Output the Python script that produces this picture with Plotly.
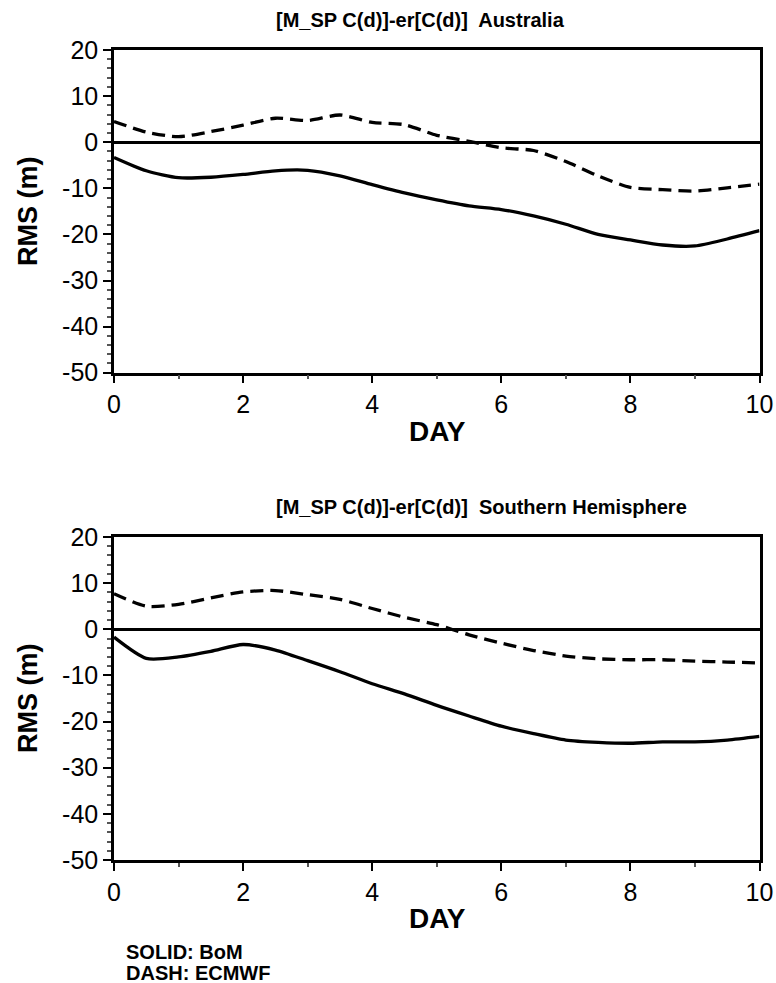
import plotly.graph_objects as go

days = [0, 0.5, 1, 1.5, 2, 2.5, 3, 3.5, 4, 4.5, 5, 5.5, 6, 6.5, 7, 7.5, 8, 8.5, 9, 9.5, 10]

aus_bom = [-3.3, -6.2, -7.7, -7.6, -7.0, -6.2, -6.1, -7.3, -9.2, -11.0, -12.5, -13.8,
           -14.6, -16.0, -17.8, -20.0, -21.2, -22.3, -22.5, -21.0, -19.2]
aus_ecmwf = [4.5, 2.2, 1.2, 2.3, 3.7, 5.2, 4.7, 5.9, 4.3, 3.8, 1.5, 0.2,
             -1.2, -1.8, -4.2, -7.3, -9.8, -10.3, -10.6, -9.9, -9.1]

sh_bom = [-1.7, -6.3, -6.0, -4.8, -3.3, -4.5, -6.8, -9.2, -11.8, -14.0, -16.5, -18.8,
          -21.0, -22.6, -24.0, -24.5, -24.7, -24.4, -24.4, -24.0, -23.2]
sh_ecmwf = [7.7, 5.0, 5.4, 6.8, 8.1, 8.4, 7.5, 6.5, 4.5, 2.6, 1.0, -1.2,
            -3.0, -4.6, -5.8, -6.4, -6.6, -6.6, -6.9, -7.1, -7.3]

titles = ["[M_SP C(d)]-er[C(d)]  Australia", "[M_SP C(d)]-er[C(d)]  Southern Hemisphere"]
x_ticks = [0, 2, 4, 6, 8, 10]
y_ticks = [20, 10, 0, -10, -20, -30, -40, -50]
y_ticklabels = ["20", "10", "0", "-10", "-20", "-30", "-40", "-50"]

W, H = 776, 983
FONT = "Liberation Sans, Arial, Helvetica, sans-serif"

fig = go.Figure()

panels = [
    (aus_bom, aus_ecmwf, "x", "y"),
    (sh_bom, sh_ecmwf, "x2", "y2"),
]
for bom, ecm, xa, ya in panels:
    fig.add_trace(go.Scatter(x=days, y=bom, mode="lines", xaxis=xa, yaxis=ya,
                             line=dict(color="black", width=3.3, shape="spline", smoothing=0.7),
                             showlegend=False, name="BoM"))
    fig.add_trace(go.Scatter(x=days, y=ecm, mode="lines", xaxis=xa, yaxis=ya,
                             line=dict(color="black", width=3.3, dash="13px,7px",
                                       shape="spline", smoothing=0.7),
                             showlegend=False, name="ECMWF"))

xdom = [114 / W, 759.5 / W]
ydom1 = [1 - 372.7 / H, 1 - 50 / H]
ydom2 = [1 - 860 / H, 1 - 537 / H]

def xaxis(anchor):
    return dict(domain=xdom, anchor=anchor, range=[0, 10], tickvals=x_ticks,
                ticks="outside", ticklen=8, tickwidth=1.5, tickcolor="black",
                minor=dict(dtick=1, tick0=0, ticks="outside", ticklen=4, tickcolor="#555"),
                showline=True, linecolor="black", linewidth=2.5, mirror=True,
                showgrid=False, zeroline=False, automargin=False,
                tickfont=dict(family=FONT, size=25, color="black"))

def yaxis(anchor, dom):
    return dict(domain=dom, anchor=anchor, range=[-50, 20], tickvals=y_ticks,
                ticktext=y_ticklabels,
                ticks="outside", ticklen=8, tickwidth=1.5, tickcolor="black",
                minor=dict(dtick=2, tick0=0, ticks="outside", ticklen=4, tickcolor="#555"),
                showline=True, linecolor="black", linewidth=2.5, mirror=True,
                showgrid=False, zeroline=True, zerolinecolor="black", zerolinewidth=3,
                automargin=False,
                tickfont=dict(family=FONT, size=25, color="black"))

fig.update_layout(
    width=W, height=H,
    margin=dict(l=0, r=0, t=0, b=0, autoexpand=False),
    paper_bgcolor="white", plot_bgcolor="white",
    xaxis=xaxis("y"), yaxis=yaxis("x", ydom1),
    xaxis2=xaxis("y2"), yaxis2=yaxis("x2", ydom2),
)

def ann(text, xpx, ypx, size, angle=0, xanchor="center"):
    fig.add_annotation(text=text, x=xpx / W, y=1 - ypx / H, xref="paper", yref="paper",
                       showarrow=False, textangle=angle, xanchor=xanchor, yanchor="middle",
                       font=dict(family=FONT, size=size, color="black"))

ann("<b>" + titles[0] + "</b>", 420, 20, 20)
ann("<b>" + titles[1] + "</b>", 481, 507, 20)
ann("<b>DAY</b>", 437, 432, 28)
ann("<b>DAY</b>", 437, 918, 28)
ann("<b>RMS (m)</b>", 28, 211, 27, angle=-90)
ann("<b>RMS (m)</b>", 28, 698, 27, angle=-90)
ann("<b>SOLID: BoM</b>", 124, 952, 20, xanchor="left")
ann("<b>DASH: ECMWF</b>", 124, 973, 20, xanchor="left")

fig.write_html("out.html", config={"displayModeBar": False},
               post_script="document.body.style.margin='0px';document.body.style.overflow='hidden';")
